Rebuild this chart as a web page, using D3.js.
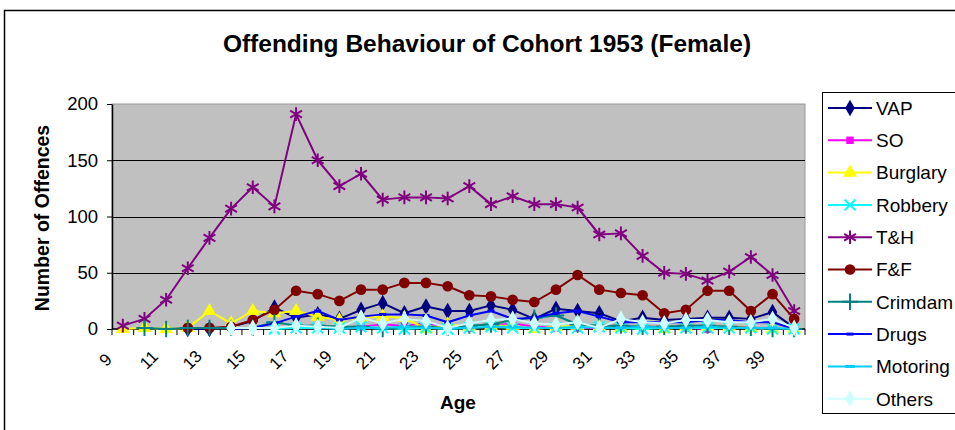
<!DOCTYPE html>
<html>
<head>
<meta charset="utf-8">
<script src="https://cdn.jsdelivr.net/npm/d3@7"></script>
<style>
  html, body { margin: 0; padding: 0; background: #fff; }
  svg { display: block; font-family: "Liberation Sans", Arial, sans-serif; }
</style>
</head>
<body>
<svg id="chart" width="955" height="430"></svg>
<script>
// Ages on the category axis
const ages = d3.range(9, 41);
const xTickLabels = ["9","11","13","15","17","19","21","23","25","27","29","31","33","35","37","39"];
const yTicks = [0, 50, 100, 150, 200];

// Offence counts per age (9..40); null = no record for that age
const vap      = [null,null,null,0,0,2,7,19,10,13,9,17,23,14,20,16,16,21,17,9,18,16,14,7,10,8,9,10,10,9,15,1];
const so       = [null,null,null,null,null,null,null,null,null,2,1,2,4,3,5,2,1,3,5,2,1,1,1,2,1,1,1,0,2,1,0,0];
const burglary = [0,1,0,1,16,5,16,14,16,11,8,10,11,10,0,4,2,3,3,0,2,3,2,1,3,0,2,2,2,1,0,0];
const robbery  = [null,null,null,null,null,null,null,0,1,1,1,2,1,0,1,0,1,2,1,1,1,1,2,1,0,1,1,1,1,1,0,0];
const tandh    = [3,9,26,54,81,107,126,109,191,150,127,138,115,117,117,116,127,111,118,111,111,108,84,85,65,50,49,43,51,64,48,16];
const fandf    = [null,null,null,1,1,2,8,17,34,31,25,35,35,41,41,38,30,29,26,24,35,48,35,32,30,14,17,34,34,16,31,9];
const crimdam  = [null,1,0,1,1,1,1,6,3,3,2,2,0,2,2,1,3,4,8,10,12,4,3,3,2,2,3,3,2,1,0,0];
const drugs    = [null,null,null,null,null,0,1,5,11,16,8,11,13,13,12,6,12,16,9,10,14,16,11,6,6,6,6,8,8,6,6,0];
const motoring = [null,null,null,null,null,null,null,null,null,1,0,1,1,2,1,1,1,2,2,1,1,2,1,1,2,1,1,2,1,1,1,0];
const others   = [null,null,null,null,null,1,1,1,3,2,1,10,5,9,7,1,5,8,9,5,4,6,1,9,6,5,8,8,6,6,9,1];

const seriesNames = ["VAP","SO","Burglary","Robbery","T&H","F&F","Crimdam","Drugs","Motoring","Others"];
const seriesValues = [vap, so, burglary, robbery, tandh, fandf, crimdam, drugs, motoring, others];
const seriesColors = ["#000080","#FF00FF","#FFFF00","#00FFFF","#800080","#800000","#008080","#0000FF","#00CCFF","#CCFFFF"];
const seriesMarkers = ["diamond","square","triangle","times","asterisk","circle","plus","dash","longdash","diamond"];

const svg = d3.select("#chart");

// Outer chart frame
svg.append("rect").attr("x", 4.5).attr("y", 10.5).attr("width", 1000).attr("height", 500)
  .attr("fill", "#fff").attr("stroke", "#000").attr("stroke-width", 1.5);

const plot = { left: 112, right: 805, top: 104, bottom: 329 };

const x = d3.scaleBand().domain(ages).range([plot.left, plot.right]).padding(0);
const cx = a => x(a) + x.bandwidth() / 2;
const y = d3.scaleLinear().domain([0, 200]).range([plot.bottom, plot.top]);

// Plot background
svg.append("rect").attr("x", plot.left).attr("y", plot.top)
  .attr("width", plot.right - plot.left).attr("height", plot.bottom - plot.top)
  .attr("fill", "#C0C0C0").attr("stroke", "#999").attr("stroke-width", 1);

// Horizontal gridlines
svg.append("g").selectAll("line").data(yTicks.filter(v => v > 0 && v < 200)).join("line")
  .attr("x1", plot.left).attr("x2", plot.right)
  .attr("y1", d => Math.round(y(d)) + 0.5).attr("y2", d => Math.round(y(d)) + 0.5)
  .attr("stroke", "#000").attr("stroke-width", 1);

// Y axis
const yAxis = svg.append("g").attr("transform", `translate(${plot.left},0)`)
  .call(d3.axisLeft(y).tickValues(yTicks).tickSize(5).tickSizeOuter(0).tickPadding(9));
yAxis.select(".domain").attr("stroke", "#000").attr("stroke-width", 1.5);
yAxis.selectAll(".tick line").attr("stroke", "#000");
yAxis.selectAll("text").attr("font-size", 18.5).attr("fill", "#000")
  .attr("font-family", "Liberation Sans, Arial, sans-serif");

// X axis line and boundary ticks
const xg = svg.append("g");
xg.append("line").attr("x1", plot.left).attr("x2", plot.right)
  .attr("y1", plot.bottom).attr("y2", plot.bottom).attr("stroke", "#000").attr("stroke-width", 1.5);
const bounds = ages.map(a => x(a)).concat([x.range()[1]]);
xg.selectAll("line.tk").data(bounds).join("line").attr("class", "tk")
  .attr("x1", d => d).attr("x2", d => d)
  .attr("y1", plot.bottom).attr("y2", plot.bottom + 6)
  .attr("stroke", "#000").attr("stroke-width", 1);
xg.selectAll("text").data(xTickLabels).join("text")
  .attr("transform", d => `translate(${cx(+d) - 17},${plot.bottom + 31}) rotate(-45)`)
  .attr("text-anchor", "middle").attr("dominant-baseline", "central")
  .attr("font-size", 17).attr("fill", "#000")
  .text(d => d);

// Axis titles
svg.append("text").attr("x", 458).attr("y", 409).attr("text-anchor", "middle")
  .attr("font-size", 19).attr("font-weight", "bold").text("Age");
svg.append("text").attr("transform", "translate(49,218) rotate(-90)")
  .attr("text-anchor", "middle").attr("font-size", 19.5).attr("font-weight", "bold")
  .text("Number of Offences");

// Title
svg.append("text").attr("x", 487).attr("y", 52).attr("text-anchor", "middle")
  .attr("font-size", 24.5).attr("font-weight", "bold").text("Offending Behaviour of Cohort 1953 (Female)");

// Marker drawing
function drawMarker(g, type, color) {
  const sym = {
    diamond: [d3.symbolDiamond, 80, true],
    square: [d3.symbolSquare, 55, true],
    triangle: [d3.symbolTriangle, 85, true],
    circle: [d3.symbolCircle, 90, true],
    times: [d3.symbolTimes, 80, false],
    asterisk: [d3.symbolAsterisk, 130, false],
    plus: [d3.symbolPlus, 90, false]
  }[type];
  if (sym) {
    const p = g.append("path").attr("d", d3.symbol(sym[0], sym[1])());
    if (sym[2]) p.attr("fill", color).attr("stroke", "none");
    else p.attr("fill", "none").attr("stroke", color).attr("stroke-width", 2);
  } else {
    const w = type === "dash" ? 7 : 10;
    g.append("rect").attr("x", -w / 2).attr("y", -1.5).attr("width", w).attr("height", 3).attr("fill", color);
  }
}

// Series lines and markers
const line = d3.line().defined(d => d.v != null).x(d => cx(d.a)).y(d => y(d.v));
seriesNames.forEach((name, i) => {
  const pts = ages.map((a, j) => ({ a, v: seriesValues[i][j] }));
  const g = svg.append("g");
  g.append("path").datum(pts).attr("d", line)
    .attr("fill", "none").attr("stroke", seriesColors[i]).attr("stroke-width", 2)
    .attr("stroke-linejoin", "round");
  pts.filter(d => d.v != null).forEach(d => {
    const m = g.append("g").attr("transform", `translate(${cx(d.a)},${y(d.v)})`);
    drawMarker(m, seriesMarkers[i], seriesColors[i]);
  });
});

// Legend
const lg = svg.append("g");
lg.append("rect").attr("x", 822.5).attr("y", 92.5).attr("width", 200).attr("height", 321)
  .attr("fill", "#fff").attr("stroke", "#000").attr("stroke-width", 1);
seriesNames.forEach((name, i) => {
  const yy = 108 + i * 32.3;
  const row = lg.append("g").attr("transform", `translate(0,${yy})`);
  row.append("line").attr("x1", 828).attr("x2", 872).attr("y1", 0).attr("y2", 0)
    .attr("stroke", seriesColors[i]).attr("stroke-width", 2);
  const m = row.append("g").attr("transform", "translate(850,0)");
  drawMarker(m, seriesMarkers[i], seriesColors[i]);
  row.append("text").attr("x", 876).attr("y", 0).attr("dy", "0.36em")
    .attr("font-size", 19).attr("fill", "#000").text(name);
});
</script>
</body>
</html>
